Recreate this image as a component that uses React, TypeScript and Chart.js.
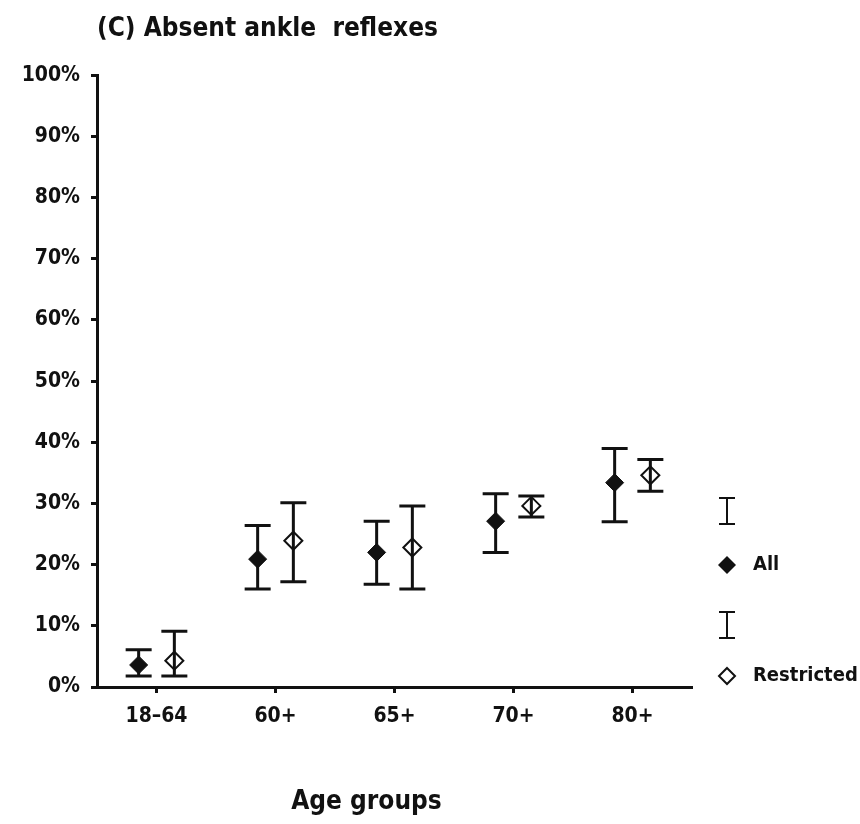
import React, { useEffect, useRef } from 'react';
import { Chart, registerables } from 'chart.js';

Chart.register(...registerables);

// ---- data ----
const titleText = '(C) Absent ankle  reflexes';
const xAxisTitle = 'Age groups';
const categories = ['18–64', '60+', '65+', '70+', '80+'];
const yTickValues = [0, 10, 20, 30, 40, 50, 60, 70, 80, 90, 100];
const seriesNames = ['All', 'Restricted'];

const allValues = [3.6, 20.9, 22.0, 27.1, 33.4];
const allLower = [1.8, 16.0, 16.8, 22.0, 27.0];
const allUpper = [6.1, 26.4, 27.1, 31.6, 39.0];

const restrictedValues = [4.3, 23.9, 22.8, 29.6, 34.6];
const restrictedLower = [1.8, 17.2, 16.0, 27.8, 32.0];
const restrictedUpper = [9.1, 30.1, 29.6, 31.2, 37.2];

const groupShift = 0.15;

const FONT = "'DejaVu Sans Condensed', 'Liberation Sans Narrow', 'Roboto', sans-serif";
const INK = '#111111';

function diamond(ctx: CanvasRenderingContext2D, x: number, y: number, r: number, filled: boolean) {
  ctx.beginPath();
  ctx.moveTo(x, y - r);
  ctx.lineTo(x + r, y);
  ctx.lineTo(x, y + r);
  ctx.lineTo(x - r, y);
  ctx.closePath();
  if (filled) {
    ctx.fillStyle = INK;
    ctx.fill();
  } else {
    ctx.lineWidth = 2;
    ctx.strokeStyle = INK;
    ctx.stroke();
  }
}

const errorBarPlugin = {
  id: 'errorBars',
  beforeDatasetsDraw(chart: any) {
    const { ctx } = chart;
    const xs = chart.scales.x;
    const ys = chart.scales.y;
    chart.data.datasets.forEach((ds: any) => {
      ds.data.forEach((pt: any, i: number) => {
        const px = xs.getPixelForValue(pt.x);
        const top = ys.getPixelForValue(ds.upper[i]);
        const bot = ys.getPixelForValue(ds.lower[i]);
        ctx.save();
        ctx.strokeStyle = INK;
        ctx.lineWidth = 3;
        ctx.beginPath();
        ctx.moveTo(px, top);
        ctx.lineTo(px, bot);
        ctx.moveTo(px - 13, top);
        ctx.lineTo(px + 13, top);
        ctx.moveTo(px - 13, bot);
        ctx.lineTo(px + 13, bot);
        ctx.stroke();
        ctx.restore();
      });
    });
  },
};

const extrasPlugin = {
  id: 'extras',
  afterDraw(chart: any) {
    const { ctx, chartArea } = chart;
    ctx.save();
    // axis title
    ctx.fillStyle = INK;
    ctx.font = `bold 26px ${FONT}`;
    ctx.textAlign = 'center';
    ctx.textBaseline = 'middle';
    ctx.fillText(xAxisTitle, (chartArea.left + chartArea.right) / 2 - 28, 802);

    // legend
    const lx = chartArea.right + 35;
    const tx = chartArea.right + 61;
    const drawI = (cy: number) => {
      ctx.strokeStyle = INK;
      ctx.lineWidth = 2;
      ctx.beginPath();
      ctx.moveTo(lx, cy - 13);
      ctx.lineTo(lx, cy + 13);
      ctx.moveTo(lx - 8, cy - 13);
      ctx.lineTo(lx + 8, cy - 13);
      ctx.moveTo(lx - 8, cy + 13);
      ctx.lineTo(lx + 8, cy + 13);
      ctx.stroke();
    };
    ctx.font = `bold 20px ${FONT}`;
    ctx.textAlign = 'left';
    const b = chartArea.bottom;
    drawI(b - 176);
    diamond(ctx, lx, b - 122, 9, true);
    ctx.fillStyle = INK;
    ctx.fillText(seriesNames[0], tx, b - 122);
    drawI(b - 62);
    diamond(ctx, lx, b - 11, 8, false);
    ctx.fillStyle = INK;
    ctx.fillText(seriesNames[1], tx, b - 11);
    ctx.restore();
  },
};

export default function App() {
  const canvasRef = useRef<HTMLCanvasElement | null>(null);

  useEffect(() => {
    document.body.style.margin = '0';
    const canvas = canvasRef.current;
    if (!canvas) return;

    const chart = new Chart(canvas, {
      type: 'scatter',
      data: {
        datasets: [
          {
            label: seriesNames[0],
            data: allValues.map((v, i) => ({ x: i - groupShift, y: v })),
            upper: allUpper,
            lower: allLower,
            pointStyle: 'rectRot',
            pointRadius: 9,
            pointBackgroundColor: INK,
            pointBorderColor: INK,
            pointBorderWidth: 1,
            showLine: false,
          } as any,
          {
            label: seriesNames[1],
            data: restrictedValues.map((v, i) => ({ x: i + groupShift, y: v })),
            upper: restrictedUpper,
            lower: restrictedLower,
            pointStyle: 'rectRot',
            pointRadius: 9,
            pointBackgroundColor: 'rgba(255,255,255,0)',
            pointBorderColor: INK,
            pointBorderWidth: 2,
            showLine: false,
          } as any,
        ],
      },
      options: {
        responsive: false,
        animation: false,
        layout: { padding: { left: 0, right: 168, top: 0, bottom: 0 } },
        plugins: {
          legend: { display: false },
          tooltip: { enabled: false },
          title: {
            display: true,
            text: titleText,
            fullSize: false,
            align: 'start',
            color: INK,
            font: { family: FONT, size: 26, weight: 'bold' },
            padding: { top: 14, bottom: 30 },
          },
        },
        scales: {
          x: {
            type: 'linear',
            min: -0.5,
            max: 4.5,
            afterBuildTicks: (scale: any) => {
              scale.ticks = categories.map((_, i) => ({ value: i }));
            },
            afterFit: (scale: any) => {
              scale.height = 137;
            },
            border: { display: true, color: INK, width: 3 },
            grid: {
              drawOnChartArea: false,
              drawTicks: true,
              tickLength: 6,
              tickWidth: 3,
              tickColor: INK,
            },
            ticks: {
              color: INK,
              padding: 11,
              font: { family: FONT, size: 21, weight: 'bold' },
              callback: (v: any) => categories[Math.round(Number(v))] ?? '',
            },
          },
          y: {
            type: 'linear',
            min: 0,
            max: 100,
            afterBuildTicks: (scale: any) => {
              scale.ticks = yTickValues.map((v) => ({ value: v }));
            },
            afterFit: (scale: any) => {
              scale.width = 97;
            },
            border: { display: true, color: INK, width: 3 },
            grid: {
              drawOnChartArea: false,
              drawTicks: true,
              tickLength: 6,
              tickWidth: 3,
              tickColor: INK,
            },
            ticks: {
              color: INK,
              padding: 11,
              font: { family: FONT, size: 21, weight: 'bold' },
              callback: (v: any) => `${v}%`,
            },
          },
        },
      },
      plugins: [errorBarPlugin, extrasPlugin],
    } as any);

    return () => chart.destroy();
  }, []);

  return (
    <div style={{ width: 860, height: 824, background: '#fff' }}>
      <canvas ref={canvasRef} width={860} height={824} />
    </div>
  );
}
